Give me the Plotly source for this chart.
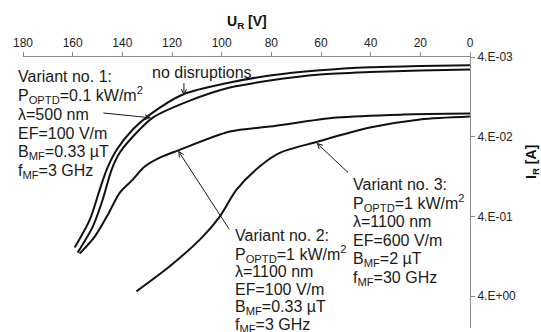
import math
import plotly.graph_objects as go

# ---------------- data ----------------
# U_R [V] and I_R [A]
x_none = [0, 20.1, 40.3, 60.4, 80.6, 96.7, 115.6, 128.9, 135.8, 142.2, 146.3, 149.1, 153.1, 159.2]
i_none = [0.00507, 0.00519, 0.00537, 0.00586, 0.00683, 0.00836, 0.0118, 0.0211, 0.0325, 0.0579, 0.103, 0.184, 0.438, 0.982]

x_v1 = [0, 20.1, 40.3, 60.4, 80.6, 96.7, 112.8, 127.7, 134.2, 141.0, 144.3, 147.9, 151.9, 158.0]
i_v1 = [0.00574, 0.00591, 0.00617, 0.00663, 0.00789, 0.00966, 0.0141, 0.0230, 0.0354, 0.0631, 0.103, 0.2455, 0.536, 1.135]

x_v2 = [0, 27.0, 53.6, 80.6, 96.7, 117.7, 124.9, 131.0, 135.8, 141.0, 145.8, 151.1, 157.2]
i_v2 = [0.0205, 0.0211, 0.0230, 0.0298, 0.0344, 0.0596, 0.0730, 0.0946, 0.138, 0.2005, 0.378, 0.715, 1.169]

x_v3 = [0, 20.1, 40.3, 61.8, 76.6, 84.6, 94.0, 100.7, 107.5, 120.9, 134.3]
i_v3 = [0.0223, 0.0243, 0.0307, 0.0465, 0.0637, 0.0938, 0.184, 0.398, 0.709, 1.686, 3.47]

x_ticks = [180, 160, 140, 120, 100, 80, 60, 40, 20, 0]
y_tickvals = [0.004, 0.04, 0.4, 4]
y_ticktext = ["4.E-03", "4.E-02", "4.E-01", "4.E+00"]

label_none = "no disruptions"
label_v1 = ["Variant no. 1:", "P<sub>OPTD</sub>=0.1 kW/m<sup>2</sup>", "λ=500 nm",
            "EF=100 V/m", "B<sub>MF</sub>=0.33 µT", "f<sub>MF</sub>=3 GHz"]
label_v2 = ["Variant no. 2:", "P<sub>OPTD</sub>=1 kW/m<sup>2</sup>", "λ=1100 nm",
            "EF=100 V/m", "B<sub>MF</sub>=0.33 µT", "f<sub>MF</sub>=3 GHz"]
label_v3 = ["Variant no. 3:", "P<sub>OPTD</sub>=1 kW/m<sup>2</sup>", "λ=1100 nm",
            "EF=600 V/m", "B<sub>MF</sub>=2 µT", "f<sub>MF</sub>=30 GHz"]

# arrow tips (on curves), data coords
tip_none = (115.2, 0.01216)
tip_v1 = (128.5, 0.02317)
tip_v2 = (117.5, 0.0600)
tip_v3 = (61.8, 0.0477)

# ---------------- figure ----------------
W, H = 541, 332
L, R, T, B = 23, 71, 57, 4
PW, PH = W - L - R, H - T - B
FONT = "Liberation Sans"

def px(xp):
    return (xp - L) / PW

def py(yp):
    return (H - B - yp) / PH

fig = go.Figure()
for xs, ys in [(x_none, i_none), (x_v1, i_v1), (x_v2, i_v2), (x_v3, i_v3)]:
    fig.add_trace(go.Scatter(x=xs, y=ys, mode="lines",
                             line=dict(color="#111111", width=2, shape="spline", smoothing=0.8),
                             showlegend=False, hoverinfo="skip"))

ann = []
def text_block(lines, x0, y0, dy=19):
    for k, t in enumerate(lines):
        ann.append(dict(text=t, xref="paper", yref="paper", x=px(x0), y=py(y0 + k * dy),
                        xanchor="left", yanchor="middle", showarrow=False,
                        font=dict(family=FONT, size=16, color="#1a1a1a")))

text_block(label_v1, 16, 76)
text_block(label_v2, 233, 236, 17.9)
text_block(label_v3, 351, 184, 18.8)
ann.append(dict(text=label_none, xref="paper", yref="paper", x=px(202), y=py(72),
                xanchor="center", yanchor="middle", showarrow=False,
                font=dict(family=FONT, size=16, color="#1a1a1a")))

def arrow(tip, ax, ay):
    ann.append(dict(text="", x=tip[0], y=math.log10(tip[1]), xref="x", yref="y",
                    ax=ax, ay=ay, showarrow=True, arrowhead=5, arrowsize=1,
                    arrowwidth=1, arrowcolor="#1a1a1a", standoff=0))

arrow(tip_none, 0, -14)
arrow(tip_v1, -49, -5)
arrow(tip_v2, 52, 80)
arrow(tip_v3, 33, 31)

# axis titles
ann.append(dict(text="<b>U<sub>R</sub> [V]</b>", xref="paper", yref="paper", x=px(247), y=py(22),
                xanchor="center", yanchor="middle", showarrow=False,
                font=dict(family=FONT, size=14, color="#111111")))
ann.append(dict(text="<b>I<sub>R</sub> [A]</b>", xref="paper", yref="paper", x=px(532), y=py(162),
                xanchor="center", yanchor="middle", showarrow=False, textangle=-90,
                font=dict(family=FONT, size=14, color="#111111")))

fig.update_layout(
    width=W, height=H, margin=dict(l=L, r=R, t=T, b=B),
    paper_bgcolor="white", plot_bgcolor="white",
    font=dict(family=FONT),
    annotations=ann,
    xaxis=dict(side="top", range=[180, 0], tickvals=x_ticks, ticks="outside", ticklen=4,
               tickcolor="#8c8c8c", showline=True, linecolor="#8c8c8c", linewidth=1,
               showgrid=False, zeroline=False,
               tickfont=dict(family=FONT, size=12, color="#222222")),
    yaxis=dict(type="log", side="right", range=[1.0, math.log10(0.004)],
               tickvals=y_tickvals, ticktext=y_ticktext, ticks="outside", ticklen=4,
               tickcolor="#8c8c8c", showline=True, linecolor="#8c8c8c", linewidth=1,
               showgrid=False, zeroline=False,
               tickfont=dict(family=FONT, size=12, color="#222222")),
)

fig.write_html("out.html", config={"displayModeBar": False},
               post_script="document.body.style.margin='0';document.body.style.overflow='hidden';")
